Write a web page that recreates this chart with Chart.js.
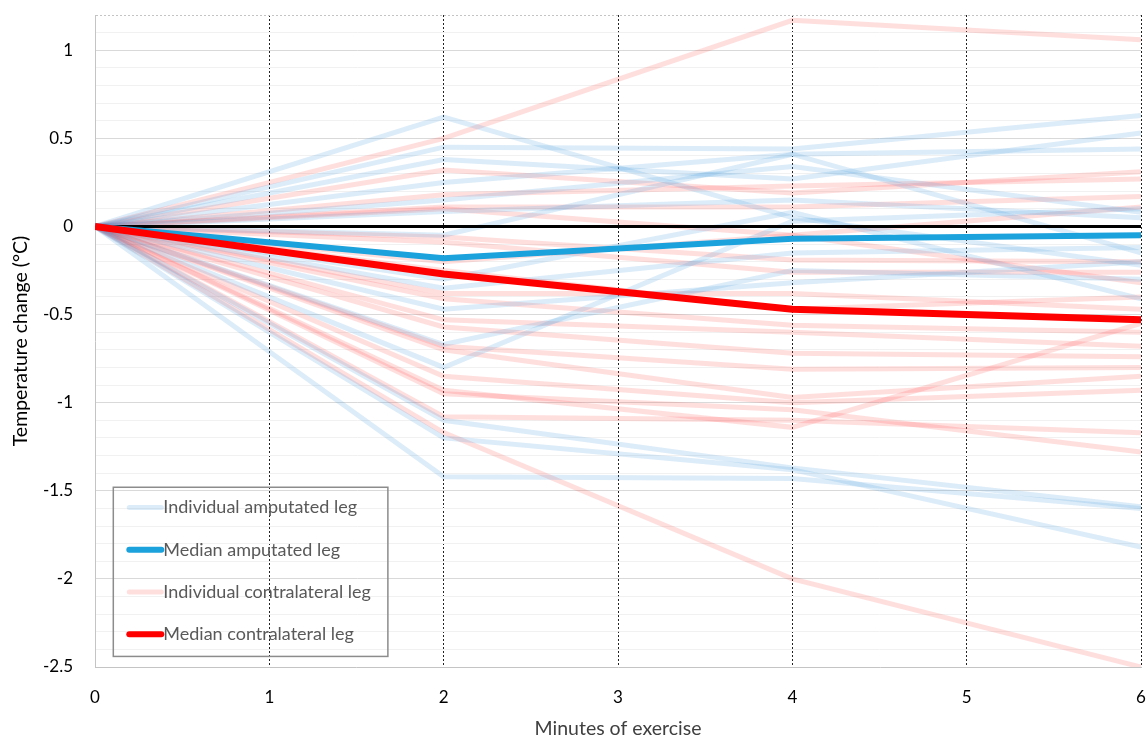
<!DOCTYPE html>
<html>
<head>
<meta charset="utf-8">
<script src="https://cdn.jsdelivr.net/npm/chart.js@4.4.0/dist/chart.umd.min.js"></script>
<style>
  html, body { margin: 0; padding: 0; background: #fff; }
  #wrap { width: 1147px; height: 738px; }
</style>
</head>
<body>
<div id="wrap"><canvas id="myChart"></canvas></div>
<script>
// minutes where each leg was measured
const minutes = [0, 2, 4, 6];

// individual amputated legs (temperature change, C)
const amputatedIndividual = [
    [0, 0.62, 0.05, -0.22],
    [0, 0.45, 0.44, 0.63],
    [0, 0.38, 0.27, 0.53],
    [0, 0.25, 0.41, 0.44],
    [0, 0.15, 0.34, 0.08],
    [0, 0.085, 0.15, 0.05],
    [0, -0.05, 0.41, -0.15],
    [0, -0.30, 0.08, -0.41],
    [0, -0.35, -0.15, -0.12],
    [0, -0.47, -0.32, -0.20],
    [0, -0.80, 0.03, 0.10],
    [0, -0.67, -0.25, -0.30],
    [0, -1.10, -1.37, -1.59],
    [0, -1.20, -1.38, -1.82],
    [0, -1.42, -1.43, -1.60]
];

// individual contralateral legs
const contralateralIndividual = [
    [0, 0.50, 1.17, 1.06],
    [0, 0.32, 0.19, 0.31],
    [0, 0.18, 0.23, 0.27],
    [0, 0.11, 0.11, 0.17],
    [0, 0.10, -0.05, 0.11],
    [0, -0.06, -0.19, -0.20],
    [0, -0.09, -0.26, -0.26],
    [0, -0.20, -0.05, -0.32],
    [0, -0.38, -0.38, -0.47],
    [0, -0.41, -0.56, -0.60],
    [0, -0.53, -0.60, -0.68],
    [0, -0.57, -0.72, -0.74],
    [0, -0.68, -0.81, -0.80],
    [0, -0.70, -0.97, -0.85],
    [0, -0.85, -1.00, -0.93],
    [0, -0.93, -1.14, -0.55],
    [0, -1.08, -1.10, -1.17],
    [0, -0.95, -1.04, -1.28],
    [0, -1.17, -2.00, -2.50],
    [0, -0.25, -0.47, -0.40]
];

const amputatedMedian = [0, -0.18, -0.07, -0.05];
const contralateralMedian = [0, -0.27, -0.47, -0.53];
const zeroLine = [0, 0, 0, 0];

const legendLabels = ['Individual amputated leg', 'Median amputated leg', 'Individual contralateral leg', 'Median contralateral leg'];

const indivBlue = 'rgba(80, 160, 220, 0.2)';
const indivRed = 'rgba(255, 60, 60, 0.17)';
const medBlue = '#1ba1dc';
const medRed = '#ff0000';

function pts(vals) {
    return vals.map((v, i) => ({ x: minutes[i], y: v }));
}

const datasets = [];
datasets.push({ label: legendLabels[3], data: pts(contralateralMedian), borderColor: medRed, borderWidth: 7, order: 0, legendIdx: 3 });
datasets.push({ label: legendLabels[1], data: pts(amputatedMedian), borderColor: medBlue, borderWidth: 6, order: 0, legendIdx: 1 });
datasets.push({ label: 'zero', data: pts(zeroLine), borderColor: '#000', borderWidth: 3, order: 1 });
amputatedIndividual.forEach((row, i) => {
    datasets.push({ label: legendLabels[0], data: pts(row), borderColor: indivBlue, borderWidth: 5, order: 2, legendIdx: i === 0 ? 0 : undefined });
});
contralateralIndividual.forEach((row, i) => {
    datasets.push({ label: legendLabels[2], data: pts(row), borderColor: indivRed, borderWidth: 5, order: 2, legendIdx: i === 0 ? 2 : undefined });
});

// legend drawn inside the plot, like the original figure
const boxLegend = {
    id: 'boxLegend',
    afterDraw(chart) {
        const ctx = chart.ctx;
        const x = chart.scales.x, y = chart.scales.y;
        const left = x.getPixelForValue(0.105), right = x.getPixelForValue(1.68);
        const top = y.getPixelForValue(-1.48), bottom = y.getPixelForValue(-2.44);
        ctx.save();
        ctx.strokeStyle = '#8c8c8c';
        ctx.lineWidth = 1.5;
        ctx.strokeRect(left, top, right - left, bottom - top);
        const items = chart.data.datasets.filter(d => d.legendIdx !== undefined)
            .sort((a, b) => a.legendIdx - b.legendIdx);
        const step = (bottom - top) / 4;
        ctx.font = '18px Lato';
        ctx.textBaseline = 'middle';
        items.forEach((d, i) => {
            const cy = top + step * (i + 0.5) - 1;
            ctx.strokeStyle = d.borderColor;
            ctx.lineWidth = Math.min(d.borderWidth, 6);
            ctx.lineCap = 'round';
            ctx.beginPath();
            ctx.moveTo(left + 16, cy);
            ctx.lineTo(left + 48, cy);
            ctx.stroke();
            ctx.fillStyle = '#595959';
            ctx.fillText(d.label, left + 50, cy);
        });
        ctx.restore();
    }
};

function near(v, t) { return Math.abs(v - t) < 1e-6; }

const ctx = document.getElementById('myChart');
const myChart = new Chart(ctx, {
    type: 'line',
    data: { datasets: datasets },
    options: {
        responsive: true,
        maintainAspectRatio: false,
        animation: false,
        layout: { padding: { top: 15, right: 6, left: 0, bottom: 0 } },
        elements: { point: { radius: 0 }, line: { tension: 0, borderCapStyle: 'butt' } },
        plugins: { legend: { display: false }, tooltip: { enabled: false } },
        scales: {
            x: {
                type: 'linear',
                min: 0,
                max: 6,
                ticks: { stepSize: 1, color: '#000', font: { family: 'Lato', size: 17 }, padding: 20 },
                grid: {
                    drawTicks: false,
                    lineWidth: 1,
                    color: c => c.tick && c.tick.value === 0 ? 'rgba(0,0,0,0)' : '#222'
                },
                border: { color: '#c4c4c4', dash: [2, 2] },
                title: { display: true, text: 'Minutes of exercise', color: '#404040', font: { family: 'Lato', size: 19.5 }, padding: { top: 0, bottom: -2 } },
                afterFit: s => { s.height = 71; s.paddingLeft = 0; s.paddingRight = 0; }
            },
            y: {
                min: -2.5,
                max: 1.2,
                ticks: {
                    stepSize: 0.1,
                    autoSkip: false,
                    color: '#000',
                    font: { family: 'Lato', size: 17 },
                    padding: 22,
                    callback: v => near(v * 2, Math.round(v * 2)) ? String(Math.round(v * 2) / 2) : ''
                },
                grid: {
                    drawTicks: false,
                    color: c => {
                        const v = c.tick.value;
                        if (near(v, -2.5)) return 'rgba(0,0,0,0)';
                        if (near(v, 1.2)) return '#c4c4c4';
                        return near(v * 2, Math.round(v * 2)) ? '#d9d9d9' : '#f1f1f1';
                    }
                },
                border: {
                    color: '#c4c4c4',
                    dash: c => (c.type === 'tick' && !near(c.tick.value, 1.2)) ? [] : [2, 2]
                },
                title: { display: true, text: 'Temperature change (°C)', color: '#000', font: { family: 'Lato', size: 19.5 }, padding: { top: 9, bottom: 0 } },
                afterFit: s => { s.width = 95; s.paddingTop = 0; s.paddingBottom = 0; }
            }
        }
    },
    plugins: [boxLegend]
});
</script>
</body>
</html>
